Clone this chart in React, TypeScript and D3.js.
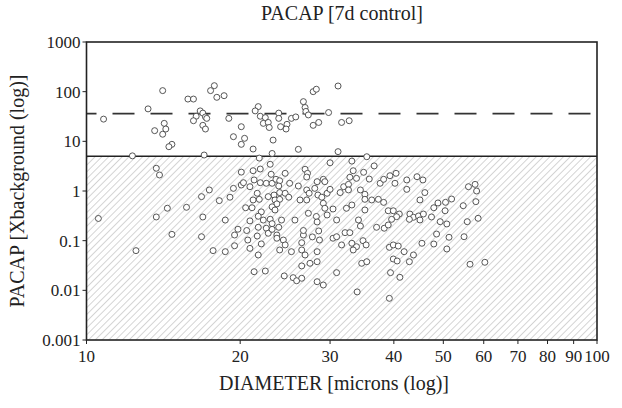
import { useEffect, useRef } from 'react';
import * as d3 from 'd3';

// [diameter (microns), PACAP (x background)]
const aboveLimit: [number, number][] = [
  [14.1, 105], [10.8, 28], [13.2, 45], [14.2, 23], [13.6, 16.4], [14.3, 17.7], [14.1, 13.9], [14.7, 8.7], [14.5, 7.8], [12.3, 5.1],
  [15.8, 71], [16.2, 71], [16.7, 41], [16.9, 37], [16.4, 32], [17.1, 31], [17.2, 29], [16.2, 26], [16.9, 21], [17.1, 17.7],
  [17.8, 132], [17.5, 105], [18.0, 77], [18.6, 83], [17.0, 5.3], [19.0, 29], [20.1, 19.7], [19.4, 12.4], [20.4, 11.5], [20.1, 8.7],
  [21.2, 7.0], [21.7, 50], [21.4, 41], [21.9, 32], [22.4, 30], [22.2, 23], [22.7, 24], [22.8, 19], [21.8, 4.6], [23.8, 37],
  [23.8, 29], [24.0, 19.7], [24.7, 22], [24.6, 17.7], [25.2, 29], [25.7, 31], [26.6, 63], [26.8, 48], [26.9, 40], [27.2, 34],
  [27.8, 100], [28.2, 112], [27.8, 21], [28.5, 24], [29.8, 38], [31.1, 130], [31.6, 24], [32.7, 26], [23.2, 10.6], [26.0, 6.9],
  [23.1, 5.7], [31.1, 6.2], [35.4, 4.9],
];

const belowSmall: [number, number][] = [
  [13.7, 2.87], [13.9, 2.1], [10.55, 0.28], [12.5, 0.063], [13.7, 0.3], [14.4, 0.45], [14.7, 0.134], [15.7, 0.47], [16.8, 0.77],
  [17.4, 1.05], [16.9, 0.3], [16.8, 0.12], [18.2, 0.64], [18.7, 0.26], [17.7, 0.063], [18.7, 0.06], [19.1, 0.75], [19.4, 1.13],
  [19.8, 0.17], [19.5, 0.13], [19.5, 0.079],
];

const belowMid: [number, number][] = [
  [22.9, 3.45], [20.1, 2.4], [21.2, 2.56], [21.9, 2.77], [23.0, 2.17], [24.5, 2.27], [26.8, 2.74], [27.1, 2.27], [27.0, 1.91],
  [20.1, 1.32], [20.3, 1.47], [20.9, 1.22], [21.3, 1.67], [21.9, 1.47], [22.5, 1.43], [23.1, 1.43], [23.5, 1.72], [23.9, 1.61],
  [23.8, 1.26], [25.0, 1.43], [26.0, 1.26], [27.0, 1.05], [27.3, 0.9], [28.0, 1.13],
  [21.6, 0.9], [21.8, 0.68], [21.2, 0.66], [22.7, 0.77], [23.3, 0.83], [23.9, 0.93], [24.5, 0.9], [24.9, 0.75], [23.4, 0.66],
  [23.9, 0.68], [23.6, 0.55], [26.2, 0.66], [27.0, 0.66],
  [20.5, 0.46], [21.1, 0.46], [23.1, 0.48], [23.4, 0.415], [22.0, 0.38], [21.7, 0.31], [20.9, 0.25], [22.2, 0.26], [22.9, 0.27],
  [23.1, 0.22], [24.1, 0.26], [25.6, 0.26], [27.2, 0.356],
  [21.7, 0.186], [22.5, 0.178], [22.7, 0.141], [23.1, 0.169], [23.8, 0.186], [23.6, 0.13], [26.6, 0.13], [26.6, 0.16], [20.6, 0.16],
  [20.7, 0.103], [20.9, 0.07], [21.7, 0.0515], [21.6, 0.124], [22.0, 0.086], [23.6, 0.112], [24.3, 0.103], [24.5, 0.082],
  [23.9, 0.065], [25.2, 0.06], [26.4, 0.065], [26.8, 0.0515], [26.4, 0.091],
  [21.3, 0.0237], [22.4, 0.0245], [24.4, 0.0195], [25.4, 0.018], [25.8, 0.0156], [26.4, 0.0175], [26.4, 0.031], [27.4, 0.035],
  [28.3, 1.54], [28.4, 0.83], [28.9, 0.75], [28.2, 0.307], [28.3, 0.238], [28.5, 0.157], [27.7, 0.119], [28.6, 0.103],
  [28.3, 0.06], [28.3, 0.0377], [28.3, 0.0149], [29.1, 0.0128], [29.1, 1.72], [29.3, 1.54], [29.6, 0.9], [29.1, 0.566],
  [29.3, 0.449], [29.6, 0.329],
];

const belowLarge: [number, number][] = [
  [30.0, 3.7], [33.1, 4.0], [36.6, 3.2],
  [33.3, 2.56], [32.8, 1.89], [33.8, 1.8], [34.9, 2.38], [35.8, 1.74], [31.9, 1.22], [32.6, 1.36], [31.4, 0.93], [32.6, 1.05],
  [34.4, 1.05], [35.1, 0.86], [35.1, 0.68], [36.2, 0.66], [37.3, 0.68], [38.2, 0.59], [37.6, 1.43], [38.2, 1.72], [39.3, 2.03],
  [40.4, 2.27], [40.2, 1.43], [42.4, 1.67], [42.4, 1.08], [44.4, 1.94], [45.6, 1.67], [46.0, 0.93], [45.0, 0.66],
  [30.0, 1.08], [30.4, 0.434], [32.3, 0.449], [33.1, 0.523], [35.1, 0.415], [30.9, 0.261], [34.1, 0.261], [34.4, 0.197],
  [39.0, 0.4], [39.9, 0.4], [41.0, 0.344], [40.5, 0.304], [39.6, 0.269], [43.0, 0.344], [43.7, 0.296], [44.7, 0.314],
  [45.7, 0.344], [47.4, 0.3], [47.9, 0.46], [48.8, 0.574], [42.9, 0.269], [45.0, 0.261],
  [32.1, 0.145], [32.8, 0.145], [37.0, 0.186], [38.3, 0.178], [39.0, 0.207], [30.4, 0.112], [30.9, 0.12], [31.6, 0.082],
  [33.1, 0.0886], [33.8, 0.0756], [33.3, 0.065], [34.8, 0.1], [35.3, 0.082], [34.6, 0.035], [35.4, 0.0377], [30.9, 0.0227],
  [33.9, 0.0093], [39.2, 0.0069], [39.2, 0.0735], [39.9, 0.082], [40.8, 0.078], [41.9, 0.06], [43.7, 0.0515], [42.9, 0.0377],
  [39.9, 0.0428], [40.6, 0.039], [39.4, 0.0227], [41.1, 0.0183], [45.4, 0.0886], [47.9, 0.0857], [48.5, 0.136],
  [56.0, 1.22], [57.7, 1.36], [58.1, 1.0], [57.9, 0.61], [54.7, 0.506], [51.9, 0.69], [50.5, 0.592], [50.4, 0.4], [49.3, 0.241],
  [50.8, 0.217], [55.7, 0.241], [58.5, 0.282], [51.3, 0.117], [54.9, 0.12], [50.8, 0.068], [56.4, 0.0335], [60.3, 0.0367],
];

const detectionLimit = 5;
const upperLevel = 36;

const xTicks = [10, 20, 30, 40, 50, 60, 70, 80, 90, 100];
const yTicks = [0.001, 0.01, 0.1, 1, 10, 100, 1000];
const yTickLabels = ['0.001', '0.01', '0.1', '1', '10', '100', '1000'];

const W = 622;
const H = 408;
const margin = { top: 42, right: 25, bottom: 68, left: 86.5 };
const font = '"Liberation Serif", "Times New Roman", serif';

export default function App() {
  const svgRef = useRef<SVGSVGElement>(null);

  useEffect(() => {
    if (!svgRef.current) return;
    const svg = d3.select(svgRef.current);
    svg.selectAll('*').remove();

    const x0 = margin.left;
    const x1 = W - margin.right;
    const y0 = margin.top;
    const y1 = H - margin.bottom;

    const xScale = d3.scaleLog().domain([10, 100]).range([x0, x1]);
    const yScale = d3.scaleLog().domain([0.001, 1000]).range([y1, y0]);

    // hatch pattern for the region below the limit
    const defs = svg.append('defs');
    const pat = defs
      .append('pattern')
      .attr('id', 'hatch')
      .attr('patternUnits', 'userSpaceOnUse')
      .attr('width', 4.8)
      .attr('height', 4.8)
      .attr('patternTransform', 'rotate(45)');
    pat.append('line').attr('x1', 0).attr('y1', 0).attr('x2', 0).attr('y2', 4.8)
      .attr('stroke', '#a9a9a9').attr('stroke-width', 1);

    svg.append('rect')
      .attr('x', x0).attr('y', yScale(detectionLimit))
      .attr('width', x1 - x0).attr('height', y1 - yScale(detectionLimit))
      .attr('fill', 'url(#hatch)');

    // reference lines
    svg.append('line')
      .attr('x1', x0).attr('x2', x1)
      .attr('y1', yScale(detectionLimit)).attr('y2', yScale(detectionLimit))
      .attr('stroke', '#222').attr('stroke-width', 1.6);
    svg.append('line')
      .attr('x1', x0).attr('x2', x1)
      .attr('y1', yScale(upperLevel)).attr('y2', yScale(upperLevel))
      .attr('stroke', '#333').attr('stroke-width', 1.8)
      .attr('stroke-dasharray', '22 16').attr('stroke-dashoffset', 12);

    // points
    const all = [...aboveLimit, ...belowSmall, ...belowMid, ...belowLarge];
    svg.append('g')
      .selectAll('circle')
      .data(all)
      .join('circle')
      .attr('cx', (d) => xScale(d[0]))
      .attr('cy', (d) => yScale(d[1]))
      .attr('r', 3)
      .attr('fill', '#fff')
      .attr('stroke', '#444')
      .attr('stroke-width', 0.9);

    // frame
    svg.append('rect')
      .attr('x', x0).attr('y', y0)
      .attr('width', x1 - x0).attr('height', y1 - y0)
      .attr('fill', 'none').attr('stroke', '#222').attr('stroke-width', 1.6);

    // x axis
    const xAxis = svg.append('g');
    xTicks.forEach((t) => {
      xAxis.append('line')
        .attr('x1', xScale(t)).attr('x2', xScale(t))
        .attr('y1', y1).attr('y2', y1 + 4)
        .attr('stroke', '#222').attr('stroke-width', 1);
      xAxis.append('text')
        .attr('x', xScale(t)).attr('y', y1 + 22)
        .attr('text-anchor', 'middle')
        .attr('font-family', font).attr('font-size', 17).attr('fill', '#222')
        .text(String(t));
    });

    // y axis
    const yAxis = svg.append('g');
    yTicks.forEach((t, i) => {
      yAxis.append('line')
        .attr('x1', x0 - 4).attr('x2', x0)
        .attr('y1', yScale(t)).attr('y2', yScale(t))
        .attr('stroke', '#222').attr('stroke-width', 1);
      yAxis.append('text')
        .attr('x', x0 - 6).attr('y', yScale(t))
        .attr('dy', '0.35em')
        .attr('text-anchor', 'end')
        .attr('font-family', font).attr('font-size', 17).attr('fill', '#222')
        .text(yTickLabels[i]);
    });

    // titles
    svg.append('text')
      .attr('x', 342).attr('y', 20)
      .attr('text-anchor', 'middle')
      .attr('font-family', font).attr('font-size', 20).attr('fill', '#222')
      .text('PACAP [7d control]');
    svg.append('text')
      .attr('x', 334).attr('y', 390)
      .attr('text-anchor', 'middle')
      .attr('font-family', font).attr('font-size', 20).attr('fill', '#222')
      .text('DIAMETER [microns (log)]');
    svg.append('text')
      .attr('transform', `translate(24,${(y0 + y1) / 2}) rotate(-90)`)
      .attr('text-anchor', 'middle')
      .attr('font-family', font).attr('font-size', 20).attr('fill', '#222')
      .text('PACAP [Xbackground (log)]');
  }, []);

  return (
    <svg
      ref={svgRef}
      width={W}
      height={H}
      style={{ position: 'absolute', left: 0, top: 0, background: '#fff' }}
    />
  );
}
